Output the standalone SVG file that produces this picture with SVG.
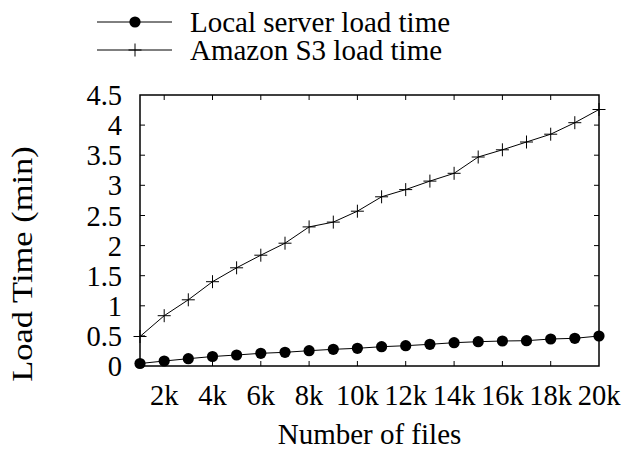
<svg xmlns="http://www.w3.org/2000/svg" width="623" height="450" viewBox="0 0 623 450">
  <style>
    text { font-family: "Liberation Serif", "Times New Roman", serif; font-size: 28.5px; fill: #000; }
    .big { font-size: 29px; }
    .ytl { text-anchor: end; }
    .xtl { text-anchor: middle; }
    .frame { fill: none; stroke: #000; stroke-width: 1.5; }
    .tick { stroke: #000; stroke-width: 1; }
    .series { fill: none; stroke: #000; stroke-width: 1; }
    .dot { fill: #000; }
    .plus { stroke: #000; stroke-width: 1; fill: none; }
  </style>
  <defs>
    <circle id="m-dot" r="5.6" class="dot"/>
    <path id="m-plus" d="M-6.5,0H6.5M0,-6.5V6.5" class="plus"/>
  </defs>
  <rect width="623" height="450" fill="#fff"/>

  <!-- legend -->
  <g id="legend-local">
    <line x1="97" y1="22" x2="172" y2="22" class="series"/>
    <use href="#m-dot" x="135" y="22"/>
    <text class="big" x="190" y="32">Local server load time</text>
  </g>
  <g id="legend-s3">
    <line x1="97" y1="50" x2="172" y2="50" class="series"/>
    <use href="#m-plus" x="135" y="50"/>
    <text class="big" x="190" y="60">Amazon S3 load time</text>
  </g>

  <!-- axes frame and ticks -->
  <g id="axes">
    <rect x="140" y="95" width="459" height="271" class="frame"/>
    <path class="tick" d="M140,335.9h5M140,305.8h5M140,275.7h5M140,245.6h5M140,215.5h5M140,185.3h5M140,155.2h5M140,125.1h5
                          M599,335.9h-5M599,305.8h-5M599,275.7h-5M599,245.6h-5M599,215.5h-5M599,185.3h-5M599,155.2h-5M599,125.1h-5
                          M164.2,366v-5M212.5,366v-5M260.8,366v-5M309.1,366v-5M357.4,366v-5M405.7,366v-5M454.1,366v-5M502.4,366v-5M550.7,366v-5
                          M164.2,95v5M212.5,95v5M260.8,95v5M309.1,95v5M357.4,95v5M405.7,95v5M454.1,95v5M502.4,95v5M550.7,95v5"/>
  </g>

  <g id="y-ticklabels">
    <text class="ytl" x="122" y="376">0</text>
    <text class="ytl" x="122" y="345.9">0.5</text>
    <text class="ytl" x="122" y="315.8">1</text>
    <text class="ytl" x="122" y="285.7">1.5</text>
    <text class="ytl" x="122" y="255.6">2</text>
    <text class="ytl" x="122" y="225.5">2.5</text>
    <text class="ytl" x="122" y="195.3">3</text>
    <text class="ytl" x="122" y="165.2">3.5</text>
    <text class="ytl" x="122" y="135.1">4</text>
    <text class="ytl" x="122" y="105">4.5</text>
  </g>

  <g id="x-ticklabels">
    <text class="xtl" x="164.2" y="405">2k</text>
    <text class="xtl" x="212.5" y="405">4k</text>
    <text class="xtl" x="260.8" y="405">6k</text>
    <text class="xtl" x="309.1" y="405">8k</text>
    <text class="xtl" x="357.4" y="405">10k</text>
    <text class="xtl" x="405.7" y="405">12k</text>
    <text class="xtl" x="454.1" y="405">14k</text>
    <text class="xtl" x="502.4" y="405">16k</text>
    <text class="xtl" x="550.7" y="405">18k</text>
    <text class="xtl" x="599" y="405">20k</text>
  </g>

  <g id="axis-titles">
    <text class="big" x="369.5" y="444" text-anchor="middle">Number of files</text>
    <text transform="translate(32,264) rotate(-90) scale(1.21,1)" text-anchor="middle">Load Time (min)</text>
  </g>

  <!-- data series -->
  <g id="connectors">
    <polyline id="s3-line" class="series" points="140,336.5 164.2,315.7 188.3,299.8 212.5,281.7 236.6,267.8 260.8,255.2 285,243.2 309.1,226.9 333.3,222.1 357.4,211.2 381.6,196.8 405.7,189.6 429.9,181.1 454.1,173.3 478.2,157 502.4,149.8 526.5,142 550.7,134.2 574.8,122.7 599,109.5"/>
    <polyline id="local-line" class="series" points="140,363.5 164.2,361 188.3,358.7 212.5,356.5 236.6,355 260.8,353.3 285,352.3 309.1,350.7 333.3,349.3 357.4,348.3 381.6,346.7 405.7,345.7 429.9,344.3 454.1,342.7 478.2,341.7 502.4,341 526.5,340.7 550.7,339 574.8,338.3 599,336"/>
  </g>

  <g id="s3-points">
    <use href="#m-plus" x="140" y="336.5"/>
    <use href="#m-plus" x="164.2" y="315.7"/>
    <use href="#m-plus" x="188.3" y="299.8"/>
    <use href="#m-plus" x="212.5" y="281.7"/>
    <use href="#m-plus" x="236.6" y="267.8"/>
    <use href="#m-plus" x="260.8" y="255.2"/>
    <use href="#m-plus" x="285" y="243.2"/>
    <use href="#m-plus" x="309.1" y="226.9"/>
    <use href="#m-plus" x="333.3" y="222.1"/>
    <use href="#m-plus" x="357.4" y="211.2"/>
    <use href="#m-plus" x="381.6" y="196.8"/>
    <use href="#m-plus" x="405.7" y="189.6"/>
    <use href="#m-plus" x="429.9" y="181.1"/>
    <use href="#m-plus" x="454.1" y="173.3"/>
    <use href="#m-plus" x="478.2" y="157"/>
    <use href="#m-plus" x="502.4" y="149.8"/>
    <use href="#m-plus" x="526.5" y="142"/>
    <use href="#m-plus" x="550.7" y="134.2"/>
    <use href="#m-plus" x="574.8" y="122.7"/>
    <use href="#m-plus" x="599" y="109.5"/>
  </g>

  <g id="local-points">
    <use href="#m-dot" x="140" y="363.5"/>
    <use href="#m-dot" x="164.2" y="361"/>
    <use href="#m-dot" x="188.3" y="358.7"/>
    <use href="#m-dot" x="212.5" y="356.5"/>
    <use href="#m-dot" x="236.6" y="355"/>
    <use href="#m-dot" x="260.8" y="353.3"/>
    <use href="#m-dot" x="285" y="352.3"/>
    <use href="#m-dot" x="309.1" y="350.7"/>
    <use href="#m-dot" x="333.3" y="349.3"/>
    <use href="#m-dot" x="357.4" y="348.3"/>
    <use href="#m-dot" x="381.6" y="346.7"/>
    <use href="#m-dot" x="405.7" y="345.7"/>
    <use href="#m-dot" x="429.9" y="344.3"/>
    <use href="#m-dot" x="454.1" y="342.7"/>
    <use href="#m-dot" x="478.2" y="341.7"/>
    <use href="#m-dot" x="502.4" y="341"/>
    <use href="#m-dot" x="526.5" y="340.7"/>
    <use href="#m-dot" x="550.7" y="339"/>
    <use href="#m-dot" x="574.8" y="338.3"/>
    <use href="#m-dot" x="599" y="336"/>
  </g>
</svg>
